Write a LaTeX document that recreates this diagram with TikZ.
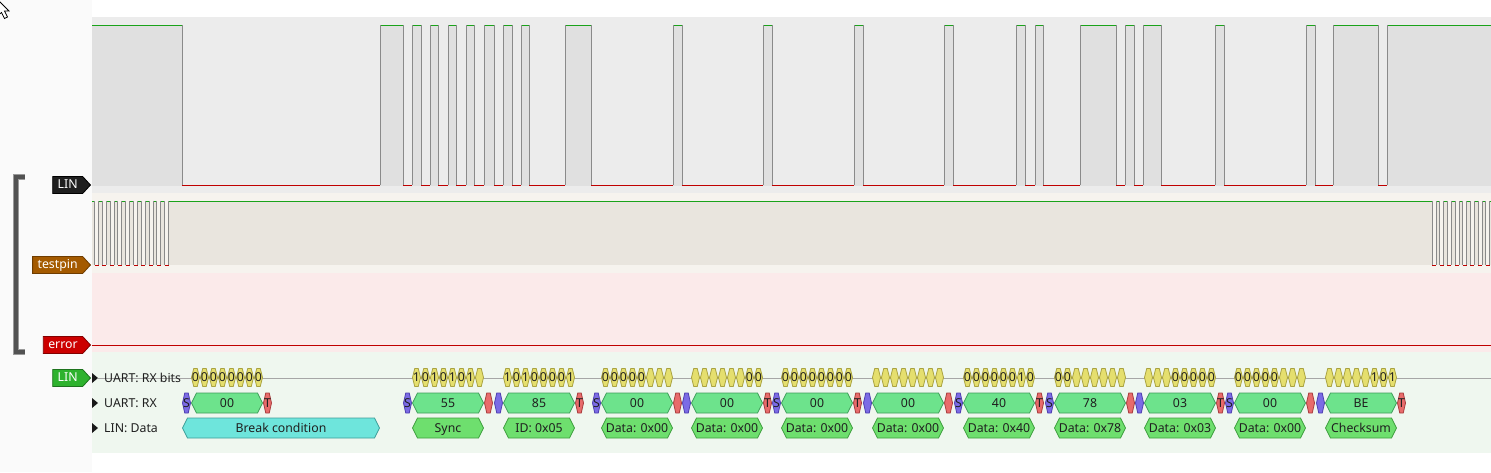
\documentclass[tikz,border=0pt]{standalone}
\usepackage{fontspec}
\setmainfont{Noto Sans}
\usetikzlibrary{shapes.symbols}
\definecolor{panelbg}{HTML}{FAFAFA}
\definecolor{linbg}{HTML}{ECECEC}
\definecolor{linhi}{HTML}{E0E0E0}
\definecolor{tpbg}{HTML}{F6F3EE}
\definecolor{tphi}{HTML}{E9E5DE}
\definecolor{errbg}{HTML}{FBEAEA}
\definecolor{decbg}{HTML}{EFF7EF}
\definecolor{hicol}{HTML}{1AA31A}
\definecolor{locol}{HTML}{C00000}
\definecolor{edgecol}{HTML}{8A8A8A}
\definecolor{bitfill}{HTML}{E5DF6E}
\definecolor{bitdraw}{HTML}{A9A240}
\definecolor{startfill}{HTML}{7B6BE5}
\definecolor{startdraw}{HTML}{4E3FB0}
\definecolor{stopfill}{HTML}{E86B6B}
\definecolor{stopdraw}{HTML}{A93D3D}
\definecolor{bytefill}{HTML}{6DE38C}
\definecolor{bytedraw}{HTML}{3E9E5A}
\definecolor{datafill}{HTML}{6EDF6E}
\definecolor{datadraw}{HTML}{3E9E3E}
\definecolor{breakfill}{HTML}{6EE5DC}
\definecolor{breakdraw}{HTML}{3E9E98}
\tikzset{hiline/.style={hicol,line width=1pt}}
\tikzset{loline/.style={locol,line width=1pt}}
\tikzset{edgeline/.style={edgecol,line width=1pt}}
\tikzset{chtag/.style={shape=signal,signal to=east,signal pointer angle=95,draw,line width=0.8pt,minimum height=17pt,inner xsep=5pt,inner ysep=0pt,text height=8.8pt,text depth=2.6pt,text=white,font=\fontsize{12.3}{12}\selectfont,anchor=east}}
\tikzset{rowlabel/.style={anchor=west,inner sep=0pt,text height=8.8pt,text depth=0pt,font=\fontsize{12.3}{12}\selectfont,text=black!88}}
\tikzset{anntext/.style={inner sep=0pt,text height=8.8pt,text depth=0pt,font=\fontsize{12.3}{12}\selectfont,text=black!88}}
\tikzset{bitann/.style={fill=bitfill,draw=bitdraw,line width=0.8pt}}
\tikzset{startann/.style={fill=startfill,draw=startdraw,line width=0.8pt}}
\tikzset{stopann/.style={fill=stopfill,draw=stopdraw,line width=0.8pt}}
\tikzset{byteann/.style={fill=bytefill,draw=bytedraw,line width=0.8pt}}
\tikzset{dataann/.style={fill=datafill,draw=datadraw,line width=0.8pt}}
\tikzset{breakann/.style={fill=breakfill,draw=breakdraw,line width=0.8pt}}
\newcounter{ann}
\newcommand{\annot}[6]{%
  \pgfmathsetmacro{\capw}{min(((#2)-(#1))/4,5)}%
  \stepcounter{ann}%
  \draw[#5] (#1+0.5,#3) -- (#1+0.5+\capw,#3-#4/2) -- (#2-0.5-\capw,#3-#4/2) -- (#2-0.5,#3) -- (#2-0.5-\capw,#3+#4/2) -- (#1+0.5+\capw,#3+#4/2) -- cycle;
  \node[anntext] (ann\arabic{ann}) at ({((#1)+(#2))/2},#3) {#6};
}
\newcommand{\bitrow}[2]{%
  \foreach \bv [count=\k from 1] in {#2} {
    \pgfmathsetmacro{\ba}{#1+9*\k}
    \pgfmathsetmacro{\bz}{#1+9*\k+9}
    \annot{\ba}{\bz}{377.5}{18}{bitann}{\if\bv n\else\bv\fi}
  }
}

\begin{document}
\begin{tikzpicture}[x=1pt,y=-1pt]
  \useasboundingbox (0,0) rectangle (1491,472);
  \fill[white] (0,0) rectangle (1491,472);
  \fill[panelbg] (0,0) rectangle (92,472);
  \fill[linbg] (92,17) rectangle (1491,193);
  \fill[tpbg] (92,193) rectangle (1491,272.5);
  \fill[errbg] (92,272.5) rectangle (1491,352);
  \fill[decbg] (92,352) rectangle (1491,453);

  \draw[loline] (92,185) -- (1491,185);
  \fill[linhi] (92,25) rectangle (182,185.5);
  \draw[hiline] (92,25) -- (182,25);
  \draw[edgeline] (182,25) -- (182,185);
  \foreach \ua/\ub in {380/403, 412/421, 430/438, 448/456, 466/474, 484/494, 503/512, 521/529, 565/591, 673/682, 763/772, 854/863, 944/953, 1016/1025, 1035/1043, 1080/1116, 1125/1134, 1143/1161, 1215/1224, 1306/1315, 1333/1378} {
    \fill[linhi] (\ua,25) rectangle (\ub,185.5);
    \draw[hiline] (\ua,25) -- (\ub,25);
    \draw[edgeline] (\ua,25) -- (\ua,185) (\ub,25) -- (\ub,185);
  }
  \fill[linhi] (1387,25) rectangle (1491,185.5);
  \draw[hiline] (1387,25) -- (1491,25);
  \draw[edgeline] (1387,25) -- (1387,185);

  \fill[tphi] (92,201) rectangle (1491,265);
  \draw[hiline] (92,201) -- (1491,201);
  \foreach \k in {0,...,9} {
    \pgfmathsetmacro{\ua}{94.5+7.8*\k}
    \pgfmathsetmacro{\ub}{\ua+4}
    \fill[tpbg] (\ua,200.4) rectangle (\ub,265);
    \draw[loline] (\ua,265) -- (\ub,265);
    \draw[edgeline] (\ua,201) -- (\ua,265) (\ub,201) -- (\ub,265);
  }
  \foreach \k in {0,...,7} {
    \pgfmathsetmacro{\ua}{1432+7.67*\k}
    \pgfmathsetmacro{\ub}{\ua+4}
    \fill[tpbg] (\ua,200.4) rectangle (\ub,265);
    \draw[loline] (\ua,265) -- (\ub,265);
    \draw[edgeline] (\ua,201) -- (\ua,265) (\ub,201) -- (\ub,265);
  }

  \draw[loline] (92,345) -- (1491,345);

  \draw[gray!70,line width=0.8pt] (98,378) -- (1491,378);
  \foreach \ry in {378,403,428} {
    \fill[black!90] (92,\ry-5) -- (98,\ry) -- (92,\ry+5) -- cycle;
  }
  \node[rowlabel] (rxbits) at (104,378) {UART: RX bits};
  \node[rowlabel] (rx) at (104,403) {UART: RX};
  \node[rowlabel] (lindata) at (104,428) {LIN: Data};

  \draw[black!40,line width=5.5pt] (25,177) -- (16,177) -- (16,352) -- (25,352);
  \draw[black!68,line width=3.5pt] (24.5,177) -- (16,177) -- (16,352) -- (24.5,352);

  \node[chtag,fill=black!88,draw=black] (linch) at (91,185) {LIN};
  \node[chtag,fill={rgb,255:red,164;green,90;blue,0},draw={rgb,255:red,110;green,60;blue,0}] (testpinch) at (91,265) {testpin};
  \node[chtag,fill={rgb,255:red,204;green,0;blue,0},draw={rgb,255:red,130;green,0;blue,0}] (errorch) at (91,345) {error};
  \node[chtag,fill={rgb,255:red,46;green,178;blue,46},draw={rgb,255:red,30;green,115;blue,30}] (lindec) at (91,378) {LIN};

  \bitrow{182}{0,0,0,0,0,0,0,0}
  \bitrow{403}{1,0,1,0,1,0,1,n}
  \bitrow{494}{1,0,1,0,0,0,0,1}
  \bitrow{592}{0,0,0,0,0,n,n,n}
  \bitrow{682}{n,n,n,n,n,n,0,0}
  \bitrow{772}{0,0,0,0,0,0,0,0}
  \bitrow{863}{n,n,n,n,n,n,n,n}
  \bitrow{954}{0,0,0,0,0,0,1,0}
  \bitrow{1045}{0,0,n,n,n,n,n,n}
  \bitrow{1135}{n,n,n,0,0,0,0,0}
  \bitrow{1225}{0,0,0,0,0,n,n,n}
  \bitrow{1316}{n,n,n,n,n,1,0,1}

  \annot{182}{191}{403}{20}{startann}{S}
  \annot{191}{263}{403}{20}{byteann}{00}
  \annot{263}{272}{403}{20}{stopann}{T}
  \annot{182}{380}{428}{20}{breakann}{Break condition}
  \foreach \s/\v/\sl/\tl/\d in {403/55/S/{}/Sync, 494/85/{}/T/{ID: 0x05}, 592/00/S/{}/{Data: 0x00}, 682/00/{}/T/{Data: 0x00}, 772/00/S/T/{Data: 0x00}, 863/00/{}/{}/{Data: 0x00}, 954/40/S/T/{Data: 0x40}, 1045/78/S/{}/{Data: 0x78}, 1135/03/{}/T/{Data: 0x03}, 1225/00/S/{}/{Data: 0x00}, 1316/BE/{}/T/Checksum} {
    \annot{\s}{\s+9}{403}{20}{startann}{\sl}
    \annot{\s+9}{\s+81}{403}{20}{byteann}{\v}
    \annot{\s+81}{\s+90}{403}{20}{stopann}{\tl}
    \annot{\s+9}{\s+81}{428}{20}{dataann}{\d}
  }

  \draw[fill=white,line width=0.8pt] (-4,-2) -- (9,11) -- (4.5,11) -- (7.5,17) -- (4.5,18.5) -- (1.5,12.5) -- (-4,17) -- cycle;
\end{tikzpicture}
\end{document}
